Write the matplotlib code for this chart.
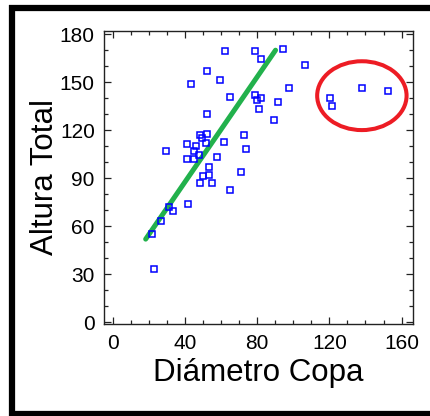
import matplotlib.pyplot as plt
from matplotlib.lines import Line2D
from matplotlib.patches import Ellipse
from matplotlib.ticker import MultipleLocator

plt.rcParams['font.family'] = ['Liberation Sans', 'DejaVu Sans']

# crown diameter vs total height
diametro = [62.3, 78.6, 81.9, 94.1, 106.4, 52.0, 43.2, 59.2, 97.4, 64.9,
            78.6, 79.7, 81.9, 91.3, 81.1, 52.0, 89.1, 48.3, 52.0, 72.8,
            41.3, 46.1, 51.6, 49.3, 61.6, 29.7, 45.0, 73.6, 41.3, 45.0,
            47.9, 57.9, 53.1, 71.0, 50.1, 53.5, 48.3, 55.3, 65.2, 41.8,
            33.2, 31.0, 26.7, 21.6, 23.0,
            120.3, 121.4, 138.1, 152.5]
altura = [169.3, 169.3, 164.8, 170.6, 160.8, 156.9, 148.8, 151.3, 146.3, 140.5,
          141.8, 138.8, 140.3, 137.6, 133.0, 130.3, 126.4, 117.0, 117.6, 116.8,
          111.4, 110.0, 112.2, 114.9, 112.7, 107.2, 107.2, 108.3, 101.9, 101.9,
          104.5, 103.1, 97.3, 93.8, 91.5, 92.1, 87.3, 87.3, 82.8, 74.0,
          69.4, 72.3, 63.6, 55.3, 33.5,
          139.9, 134.9, 146.3, 144.4]

# fitted line ends
fit_x = [18.3, 90.2]
fit_y = [52.0, 170.0]

# outlier group marked with an ellipse
grupo_centro = (138.0, 141.6)
grupo_ancho = 49.5
grupo_alto = 43.0

fig = plt.figure(figsize=(4.30, 4.16), dpi=100)
ax = fig.add_axes([0.243, 0.2212, 0.717, 0.7043])

ax.plot(fit_x, fit_y, color='#22b14c', lw=3.6, solid_capstyle='round', zorder=2)
ax.plot(diametro, altura, ls='none', marker='s', ms=4.8, mfc='none',
        mec='#0000ff', mew=1.1, zorder=3)
ax.add_patch(Ellipse(grupo_centro, grupo_ancho, grupo_alto, fill=False,
                     ec='#ed1c24', lw=2.9, zorder=4))

ax.set_xlim(-4.5, 166.2)
ax.set_ylim(-1, 182)
ax.xaxis.set_major_locator(MultipleLocator(40))
ax.xaxis.set_minor_locator(MultipleLocator(10))
ax.yaxis.set_major_locator(MultipleLocator(30))
ax.yaxis.set_minor_locator(MultipleLocator(10))
ax.tick_params(which='both', direction='in', top=True, right=True,
               width=0.9, color='#222222')
ax.tick_params(which='major', length=5, labelsize=15, pad=7)
ax.tick_params(which='minor', length=3)
for s in ax.spines.values():
    s.set_linewidth(1.0)
    s.set_color('#222222')

ax.set_xlabel('Diámetro Copa', fontsize=22.5, labelpad=4)
ax.set_ylabel('Altura Total', fontsize=22.5, labelpad=0)

# black frame: left, top and bottom edges (right edge runs off the figure)
W, H = 430, 416
frame = dict(color='black', lw=4.5, solid_capstyle='butt',
             transform=fig.transFigure, zorder=10)
fig.add_artist(Line2D([12 / W, 12 / W], [0, 411 / H], **frame))
fig.add_artist(Line2D([9 / W, 1.0], [408 / H, 408 / H], **frame))
fig.add_artist(Line2D([9 / W, 1.0], [2.5 / H, 2.5 / H], **frame))

fig.savefig('out.png', dpi=100)
